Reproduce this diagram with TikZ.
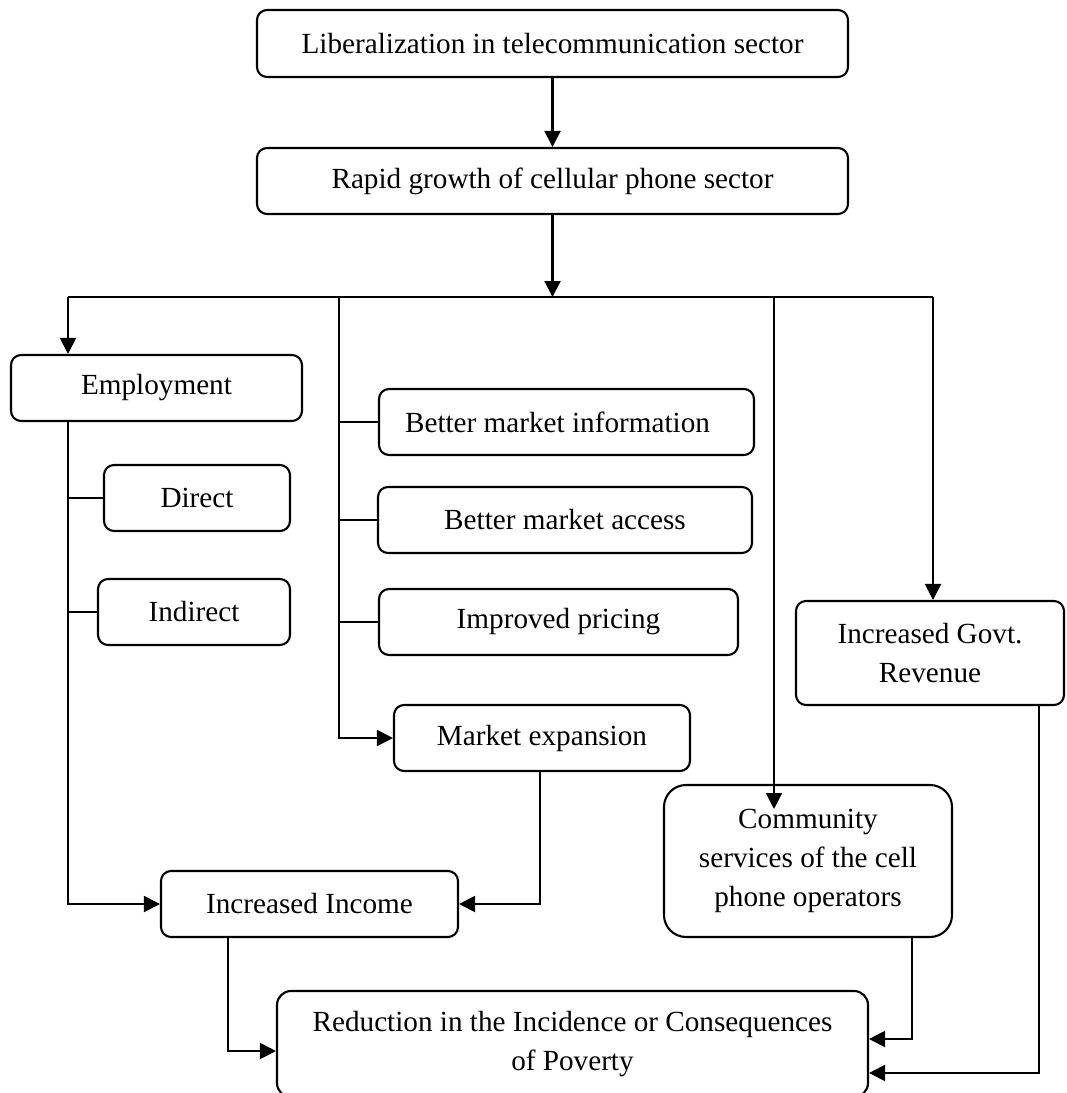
\documentclass[tikz,border=0pt]{standalone}
\usepackage{fontspec}
\setmainfont{Liberation Serif}
\usetikzlibrary{arrows.meta}

\tikzset{
  box/.style={draw, line width=2.1pt, rounded corners=10pt, inner sep=0pt,
              align=center, font=\fontsize{29.2}{39}\selectfont},
  link/.style={line width=2.1pt},
  arr/.style={line width=2.1pt, -{Triangle[length=16pt,width=16pt]}}
}

\begin{document}
\begin{tikzpicture}[x=1pt,y=-1pt]
\useasboundingbox (0,0) rectangle (1067,1093);

% boxes
\node[box, minimum width=591pt, minimum height=67pt] (lib) at (552.5,43.5)
  {Liberalization in telecommunication sector};
\node[box, minimum width=591pt, minimum height=66pt] (rapid) at (552.5,181)
  {Rapid growth of cellular phone sector};
\node[box, minimum width=291pt, minimum height=66pt] (emp) at (156.5,388) {Employment};
\node[box, minimum width=186pt, minimum height=66pt] (direct) at (197,498) {Direct};
\node[box, minimum width=192pt, minimum height=66pt] (indirect) at (194,612) {Indirect};
\node[box, minimum width=375pt, minimum height=66pt] (bmi) at (566.5,422)
  {Better market information\hspace{18pt}};
\node[box, minimum width=374pt, minimum height=66pt] (bma) at (565,520) {Better market access};
\node[box, minimum width=359pt, minimum height=66pt] (ip) at (558.5,622) {Improved pricing};
\node[box, minimum width=296pt, minimum height=66pt] (me) at (542,738) {Market expansion};
\node[box, minimum width=268pt, minimum height=104pt] (govt) at (930,653)
  {Increased Govt.\\Revenue};
\node[box, rounded corners=22pt, minimum width=288pt, minimum height=152pt] (comm) at (808,861)
  {Community\\services of the cell\\phone operators};
\node[box, minimum width=297pt, minimum height=66pt] (inc) at (309.5,904) {Increased Income};
\node[box, rounded corners=14pt, minimum width=591pt, minimum height=106pt] (red) at (572.5,1044)
  {Reduction in the Incidence or Consequences\\of Poverty};

% distribution bus and routing points
\coordinate (busL) at (68,297);
\coordinate (busM) at (339,297);
\coordinate (busC) at (774,297);
\coordinate (busR) at (933,297);
\coordinate (commIn) at (774,809);
\coordinate (empDown) at (68,421);
\coordinate (meDown) at (540,771);
\coordinate (incDown) at (228,937);
\coordinate (incTurn) at (228,1051);
\coordinate (commDown) at (912,937);
\coordinate (commTurn) at (912,1039);
\coordinate (govtDown) at (1039,705);
\coordinate (govtTurn) at (1039,1073);

\draw[arr] (lib) -- (rapid);
\draw[arr] (rapid.south) -- (rapid.south |- busL);
\draw[link] (busL) -- (busR);

% employment branch
\draw[arr] (busL) -- (busL |- emp.north);
\draw[link] (direct.west -| busL) -- (direct.west);
\draw[link] (indirect.west -| busL) -- (indirect.west);
\draw[arr] (empDown) |- (inc.west);

% market branch
\draw[link] (bmi.west -| busM) -- (bmi.west);
\draw[link] (bma.west -| busM) -- (bma.west);
\draw[link] (ip.west -| busM) -- (ip.west);
\draw[arr] (busM) |- (me.west);
\draw[arr] (meDown) |- (inc.east);

% community services and government revenue
\draw[arr] (busC) -- (commIn);
\draw[arr] (busR) -- (busR |- govt.north);

% into poverty reduction
\draw[arr] (incDown) -- (incTurn) -- (incTurn -| red.west);
\draw[arr] (commDown) -- (commTurn) -- (commTurn -| red.east);
\draw[arr] (govtDown) -- (govtTurn) -- (govtTurn -| red.east);
\end{tikzpicture}
\end{document}
